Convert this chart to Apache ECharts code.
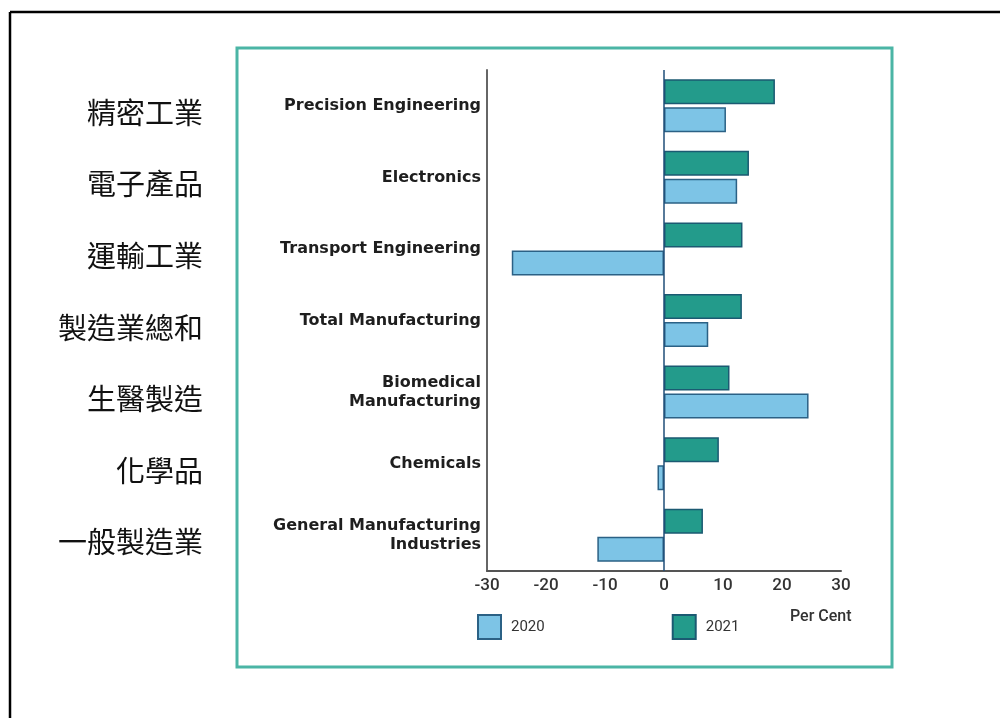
<!DOCTYPE html>
<html>
<head>
<meta charset="utf-8">
<script src="https://cdn.jsdelivr.net/npm/echarts@6/dist/echarts.min.js"></script>
<style>
html,body{margin:0;padding:0;background:#fff;}
#main{width:1000px;height:718px;}
</style>
</head>
<body>
<div id="main"></div>
<script>
const categories = ['Precision Engineering', 'Electronics', 'Transport Engineering', 'Total Manufacturing', 'Biomedical\nManufacturing', 'Chemicals', 'General Manufacturing\nIndustries'];
const chineseLabels = ['精密工業', '電子產品', '運輸工業', '製造業總和', '生醫製造', '化學品', '一般製造業'];
const values2020 = [10.5, 12.4, -25.8, 7.5, 24.5, -1.1, -11.3];
const values2021 = [18.8, 14.4, 13.3, 13.2, 11.1, 9.3, 6.6];
const seriesNames = ['2020', '2021'];
const unitLabel = 'Per Cent';

const chart = echarts.init(document.getElementById('main'));
chart.setOption({
  animation: false,
  backgroundColor: '#fff',
  grid: { left: 487, right: 159, top: 70, bottom: 147, containLabel: false },
  legend: {
    data: seriesNames,
    left: 477, top: 614, padding: 0,
    itemWidth: 23, itemHeight: 24, itemGap: 127,
    icon: 'rect',
    textStyle: { fontFamily: 'Roboto', fontSize: 15, color: '#333', padding: [0, 0, 0, 5] }
  },
  xAxis: {
    type: 'value', min: -30, max: 30, interval: 10,
    axisLine: { show: true, onZero: false, lineStyle: { color: '#555', width: 2 } },
    axisTick: { show: false },
    splitLine: { show: false },
    axisLabel: { fontFamily: 'Roboto', fontWeight: 500, fontSize: 17, color: '#333', margin: 6 }
  },
  yAxis: [
    {
      type: 'category', data: categories, inverse: true,
      axisLine: { show: true, onZero: false, lineStyle: { color: '#666', width: 2 } },
      axisTick: { show: false },
      axisLabel: { fontFamily: 'DejaVu Sans', fontWeight: 'bold', fontSize: 16, color: '#1e1e1e', margin: 6, lineHeight: 19, align: 'right' }
    },
    {
      type: 'category', data: chineseLabels, inverse: true, position: 'left',
      axisLine: { show: false }, axisTick: { show: false },
      axisLabel: {
        margin: 284,
        formatter: function (v) { return '{c|' + v + '}'; },
        rich: { c: { fontFamily: 'Noto Sans CJK TC', fontSize: 29, color: '#111', padding: [14, 0, 0, 0] } }
      }
    }
  ],
  series: [
    {
      name: seriesNames[1], type: 'bar', data: values2021, yAxisIndex: 0,
      barWidth: 25, barGap: '12%',
      itemStyle: { color: '#239b8b', borderColor: '#1b5a72', borderWidth: 1.5 },
      markLine: {
        silent: true, symbol: 'none', label: { show: false },
        lineStyle: { color: '#1f4e79', width: 1.5, type: 'solid' },
        data: [{ xAxis: 0 }]
      }
    },
    {
      name: seriesNames[0], type: 'bar', data: values2020, yAxisIndex: 0,
      barWidth: 25, barGap: '12%',
      itemStyle: { color: '#7dc4e6', borderColor: '#2b6185', borderWidth: 1.5 }
    }
  ],
  graphic: [
    { type: 'line', shape: { x1: 10, y1: 12, x2: 1000, y2: 12 }, style: { stroke: '#000', lineWidth: 2.5 } },
    { type: 'line', shape: { x1: 10, y1: 12, x2: 10, y2: 718 }, style: { stroke: '#000', lineWidth: 2.5 } },
    { type: 'rect', shape: { x: 237, y: 48, width: 655, height: 619 }, style: { fill: 'none', stroke: '#4bb5a5', lineWidth: 3 } },
    { type: 'text', left: 790, top: 609, style: { text: unitLabel, font: '500 16px Roboto', fill: '#333' } }
  ]
});
</script>
</body>
</html>
